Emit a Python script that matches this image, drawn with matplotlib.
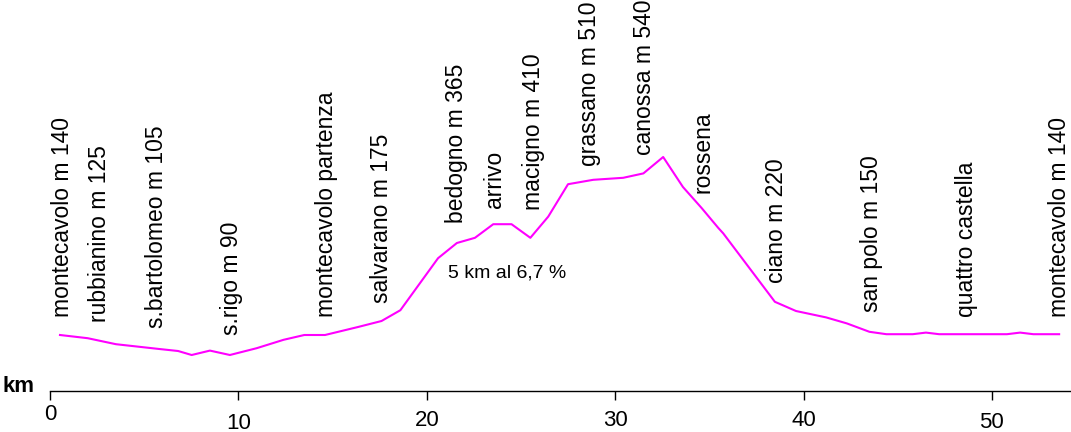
import matplotlib
matplotlib.use('Agg')
import matplotlib.pyplot as plt

# altimetric profile: km along the route, elevation (m)
km = [0.53, 2.0, 3.5, 5.8, 6.8, 7.52, 8.49, 9.55, 10.97, 12.4, 13.5, 14.6, 16.35,
      17.6, 18.6, 20.6, 21.6, 22.56, 23.53, 24.5, 25.5, 26.45, 27.5, 28.84,
      30.43, 31.5, 32.55, 33.6, 34.6, 35.47, 35.74, 38.48, 39.6, 41.2, 42.3, 43.5,
      44.4, 45.8, 46.5, 47.2, 50.8, 51.5, 52.2, 53.57]
elev = [140, 132, 117, 105, 100, 90, 101, 90, 107, 128, 140, 140, 160,
        175, 202, 332, 370, 383, 417, 417, 383, 436, 517, 528,
        533, 544, 585, 510, 457, 408, 394, 223, 200, 184, 169, 148,
        142, 142, 146, 142, 142, 146, 142, 142]

# place names: km position and elevation where the text starts
place_names = ['montecavolo m 140', 'rubbianino m 125', 's.bartolomeo m 105', 's.rigo m 90',
               'montecavolo partenza', 'salvarano m 175', 'bedogno m 365', 'arrivo',
               'macigno m 410', 'grassano m 510', 'canossa m 540', 'rossena',
               'ciano m 220', 'san polo m 150', 'quattro castella', 'montecavolo m 140']
place_km = [0.65, 2.65, 5.63, 9.64, 14.69, 17.6, 21.59, 23.62,
            25.65, 28.66, 31.58, 34.68, 38.57, 43.61, 48.66, 53.6]
place_elev = [186, 173, 158, 140, 184, 220, 419, 457,
              453, 562, 590, 494, 269, 198, 186, 186]

ticks = [0, 10, 20, 30, 40, 50]
tick_drop = [17, 23.5, 21, 21, 21, 23]  # label offset below axis (pt)

plt.rcParams['font.family'] = ['Liberation Sans', 'DejaVu Sans']

fig = plt.figure(figsize=(10.71, 4.32), dpi=100)
ax = fig.add_axes([50 / 1071, 41 / 432, 1 - 50 / 1071, 1 - 41 / 432])
ax.set_xlim(0, 54.2)
ax.set_ylim(0, 977.5)

ax.plot(km, elev, color='#ff00ff', lw=1.5)

for name, x, y in zip(place_names, place_km, place_elev):
    ax.text(x, y, name, rotation=90, ha='center', va='bottom', fontsize=16.5)

ax.text(21.14, 295, '5 km al 6,7 %', ha='left', va='center', fontsize=14)

# axis: only the bottom line with downward ticks
for side in ['left', 'right', 'top']:
    ax.spines[side].set_visible(False)
ax.spines['bottom'].set_linewidth(1.0)
ax.set_yticks([])
ax.set_xticks(ticks)
ax.set_xticklabels([])
ax.tick_params(axis='x', direction='out', length=6.5, width=1.0)

for t, d in zip(ticks, tick_drop):
    ax.annotate(str(t), xy=(t, 0), xytext=(0, -d), textcoords='offset points',
                ha='center', va='center', fontsize=16, annotation_clip=False)

fig.text(2 / 1071, 1 - 386 / 432, 'km', ha='left', va='center',
         fontsize=16, fontweight='bold')

fig.savefig('out.png', dpi=100)
